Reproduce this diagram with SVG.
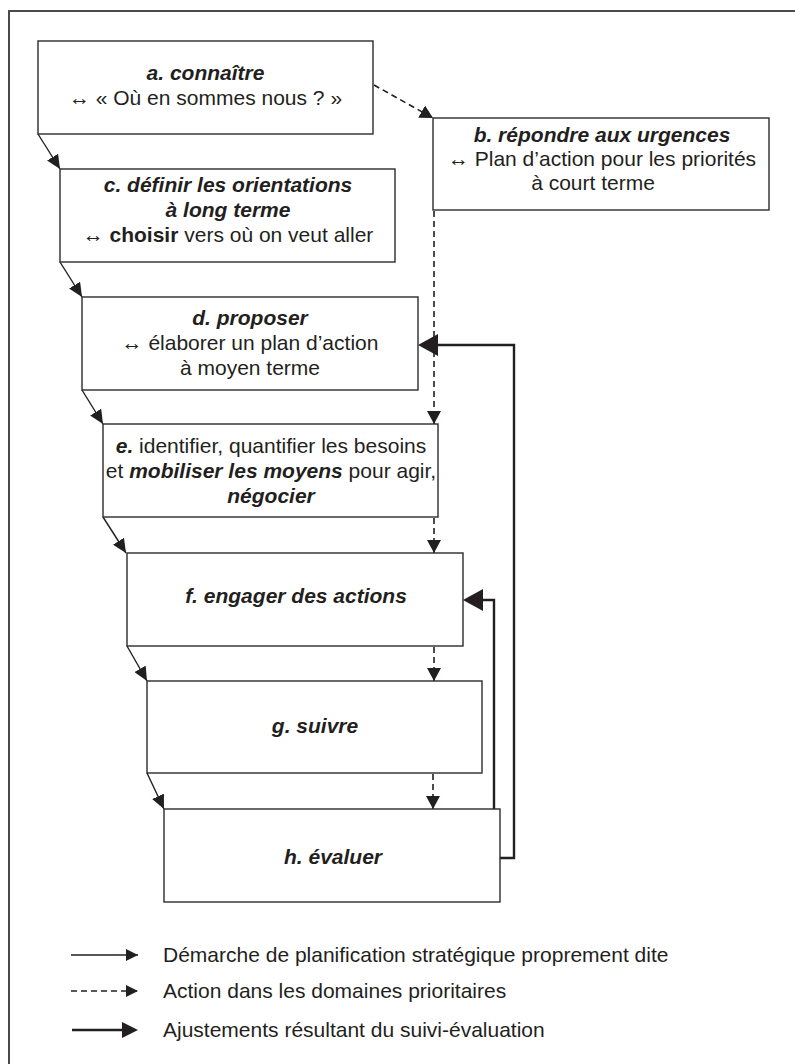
<svg xmlns="http://www.w3.org/2000/svg" width="795" height="1064" viewBox="0 0 795 1064">
  <style>
    .frame { fill: none; stroke: #4a4a4a; stroke-width: 2; }
    .box { fill: #ffffff; stroke: #2b2b2b; stroke-width: 1.4; }
    text { font-family: "Liberation Sans", Arial, Helvetica, sans-serif; font-size: 21px; fill: #231f20; text-anchor: middle; }
    .legend { text-anchor: start; }
    .bi { font-weight: bold; font-style: italic; }
    .b { font-weight: bold; }
    .flow { fill: none; stroke: #231f20; stroke-width: 1.4; }
    .prio { fill: none; stroke: #231f20; stroke-width: 1.6; stroke-dasharray: 6 4; }
    .adjust { fill: none; stroke: #231f20; stroke-width: 2.4; }
  </style>
  <defs>
    <marker id="head-flow" markerUnits="userSpaceOnUse" markerWidth="15" markerHeight="13" refX="14" refY="6.5" orient="auto">
      <path d="M0,0 L14,6.5 L0,13 z" fill="#231f20"/>
    </marker>
    <marker id="head-prio" markerUnits="userSpaceOnUse" markerWidth="14" markerHeight="14" refX="13" refY="7" orient="auto">
      <path d="M0,0 L13,7 L0,14 z" fill="#231f20"/>
    </marker>
    <marker id="head-adjust" markerUnits="userSpaceOnUse" markerWidth="21" markerHeight="22" refX="2" refY="11" orient="auto">
      <path d="M0,0 L20,11 L0,22 z" fill="#231f20"/>
    </marker>
    <marker id="head-legend-adjust" markerUnits="userSpaceOnUse" markerWidth="17" markerHeight="16" refX="2" refY="8" orient="auto">
      <path d="M0,0 L16,8 L0,16 z" fill="#231f20"/>
    </marker>
    <marker id="head-legend" markerUnits="userSpaceOnUse" markerWidth="13" markerHeight="12" refX="12" refY="6" orient="auto">
      <path d="M0,0 L12,6 L0,12 z" fill="#231f20"/>
    </marker>
  </defs>

  <rect width="795" height="1064" fill="#ffffff"/>
  <!-- outer frame: top and left rules -->
  <path class="frame" d="M9,1064 L9,11 L795,11"/>

  <!-- connectors -->
  <g id="connectors">
    <!-- main planning sequence -->
    <path class="flow" d="M38,134 L60,169" marker-end="url(#head-flow)"/>
    <path class="flow" d="M60,262 L82,297" marker-end="url(#head-flow)"/>
    <path class="flow" d="M82,390 L103,424" marker-end="url(#head-flow)"/>
    <path class="flow" d="M103,517 L126,553" marker-end="url(#head-flow)"/>
    <path class="flow" d="M127,646 L147,681" marker-end="url(#head-flow)"/>
    <path class="flow" d="M147,773 L164,809" marker-end="url(#head-flow)"/>
    <!-- priority actions -->
    <path class="prio" d="M374,85 L433,118" marker-end="url(#head-prio)"/>
    <path class="prio" d="M434,211 L434,424" marker-end="url(#head-prio)"/>
    <path class="prio" d="M434,518 L434,553" marker-end="url(#head-prio)"/>
    <path class="prio" d="M434,647 L434,681" marker-end="url(#head-prio)"/>
    <path class="prio" d="M433,774 L433,809" marker-end="url(#head-prio)"/>
    <!-- adjustments from evaluation -->
    <path class="adjust" d="M500,858 L514,858 L514,345 L436,345" marker-end="url(#head-adjust)"/>
    <path class="adjust" d="M494,809 L494,600 L481,600" marker-end="url(#head-adjust)"/>
  </g>

  <g id="node-a">
    <rect class="box" x="38" y="41" width="335" height="93"/>
    <text x="205.5" y="80" class="bi">a. connaître</text>
    <text x="205.5" y="105">↔ « Où en sommes nous ? »</text>
  </g>

  <g id="node-b">
    <rect class="box" x="433" y="118" width="336" height="92"/>
    <text x="602" y="142" class="bi">b. répondre aux urgences</text>
    <text x="602" y="166">↔ Plan d’action pour les priorités</text>
    <text x="593" y="190">à court terme</text>
  </g>

  <g id="node-c">
    <rect class="box" x="60" y="169" width="335" height="93"/>
    <text x="228" y="192" class="bi">c. définir les orientations</text>
    <text x="228" y="217" class="bi">à long terme</text>
    <text x="228" y="242">↔ <tspan class="b">choisir</tspan> vers où on veut aller</text>
  </g>

  <g id="node-d">
    <rect class="box" x="82" y="297" width="336" height="93"/>
    <text x="250" y="325" class="bi">d. proposer</text>
    <text x="250" y="350">↔ élaborer un plan d’action</text>
    <text x="250" y="375">à moyen terme</text>
  </g>

  <g id="node-e">
    <rect class="box" x="103" y="424" width="335" height="93"/>
    <text x="271" y="453"><tspan class="bi">e.</tspan> identifier, quantifier les besoins</text>
    <text x="271" y="478">et <tspan class="bi">mobiliser les moyens</tspan> pour agir,</text>
    <text x="271" y="503" class="bi">négocier</text>
  </g>

  <g id="node-f">
    <rect class="box" x="127" y="553" width="336" height="93"/>
    <text x="296" y="603" class="bi">f. engager des actions</text>
  </g>

  <g id="node-g">
    <rect class="box" x="147" y="681" width="335" height="92"/>
    <text x="315" y="733" class="bi">g. suivre</text>
  </g>

  <g id="node-h">
    <rect class="box" x="164" y="809" width="336" height="93"/>
    <text x="333" y="864" class="bi">h. évaluer</text>
  </g>

  <!-- legend -->
  <g id="legend">
    <path class="flow" d="M71,955 L138,955" marker-end="url(#head-legend)"/>
    <text class="legend" x="163" y="962">Démarche de planification stratégique proprement dite</text>
    <path class="prio" d="M71,991 L138,991" marker-end="url(#head-legend)"/>
    <text class="legend" x="163" y="998">Action dans les domaines prioritaires</text>
    <path class="adjust" d="M72,1030 L124,1030" marker-end="url(#head-legend-adjust)"/>
    <text class="legend" x="163" y="1037">Ajustements résultant du suivi-évaluation</text>
  </g>
</svg>
